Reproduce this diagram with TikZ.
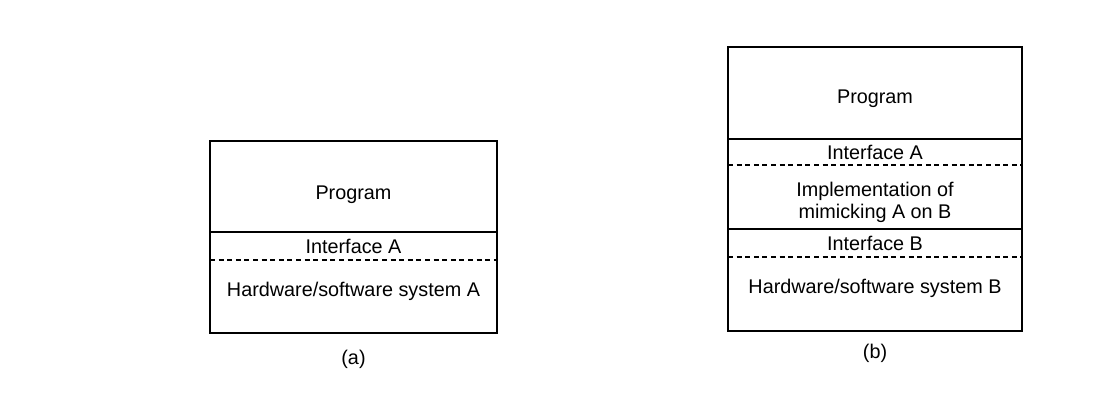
\documentclass[tikz,border=0pt]{standalone}
\usepackage{fontspec}
\setmainfont{Liberation Sans}
\usetikzlibrary{positioning}
\tikzset{
  layer/.style={outer sep=0pt,inner sep=0pt,align=center,
                font=\fontsize{9.9}{11}\selectfont},
  lowtext/.style={text height=#1},
  hightext/.style={text depth=#1},
  frame/.style={line width=0.9pt},
  solidsep/.style={line width=0.9pt},
  dashsep/.style={line width=0.7pt,dash pattern=on 2.5pt off 1.8pt},
  subcap/.style={font=\fontsize{9.9}{11}\selectfont},
}
\begin{document}
\begin{tikzpicture}[x=0.5pt,y=-0.5pt]
    \useasboundingbox (0,0) rectangle (1114,392);
    % (a) program on system A
    \node[layer,lowtext=15pt,minimum width=143.5pt,minimum height=45.5pt,anchor=north west] (progA) at (210,141)
      {Program};
    \node[layer,minimum width=143.5pt,minimum height=14pt,below=0pt of progA] (ifA)
      {Interface A};
    \node[layer,hightext=7pt,minimum width=143.5pt,minimum height=36.5pt,below=0pt of ifA] (hwA)
      {Hardware/software system A};
    \draw[frame] (progA.north west) rectangle (hwA.south east);
    \draw[solidsep] (progA.south west) -- (progA.south east);
    \draw[dashsep] (ifA.south west) -- (ifA.south east);
    \node[subcap] (capA) at (353.5,359) {(a)};
    % (b) program on system B through mimicking
    \node[layer,lowtext=13pt,minimum width=147pt,minimum height=46pt,anchor=north west] (progB) at (728,47)
      {Program};
    \node[layer,minimum width=147pt,minimum height=13pt,below=0pt of progB] (ifBa)
      {Interface A};
    \node[layer,minimum width=147pt,minimum height=32pt,below=0pt of ifBa] (impl)
      {\rule{0pt}{12.3pt}Implementation of\\mimicking A on B};
    \node[layer,minimum width=147pt,minimum height=14pt,below=0pt of impl] (ifBb)
      {Interface B};
    \node[layer,hightext=8pt,minimum width=147pt,minimum height=37pt,below=0pt of ifBb] (hwB)
      {Hardware/software system B};
    \draw[frame] (progB.north west) rectangle (hwB.south east);
    \draw[solidsep] (progB.south west) -- (progB.south east);
    \draw[dashsep] (ifBa.south west) -- (ifBa.south east);
    \draw[solidsep] (impl.south west) -- (impl.south east);
    \draw[dashsep] (ifBb.south west) -- (ifBb.south east);
    \node[subcap] (capB) at (875,353) {(b)};
  \end{tikzpicture}
\end{document}
